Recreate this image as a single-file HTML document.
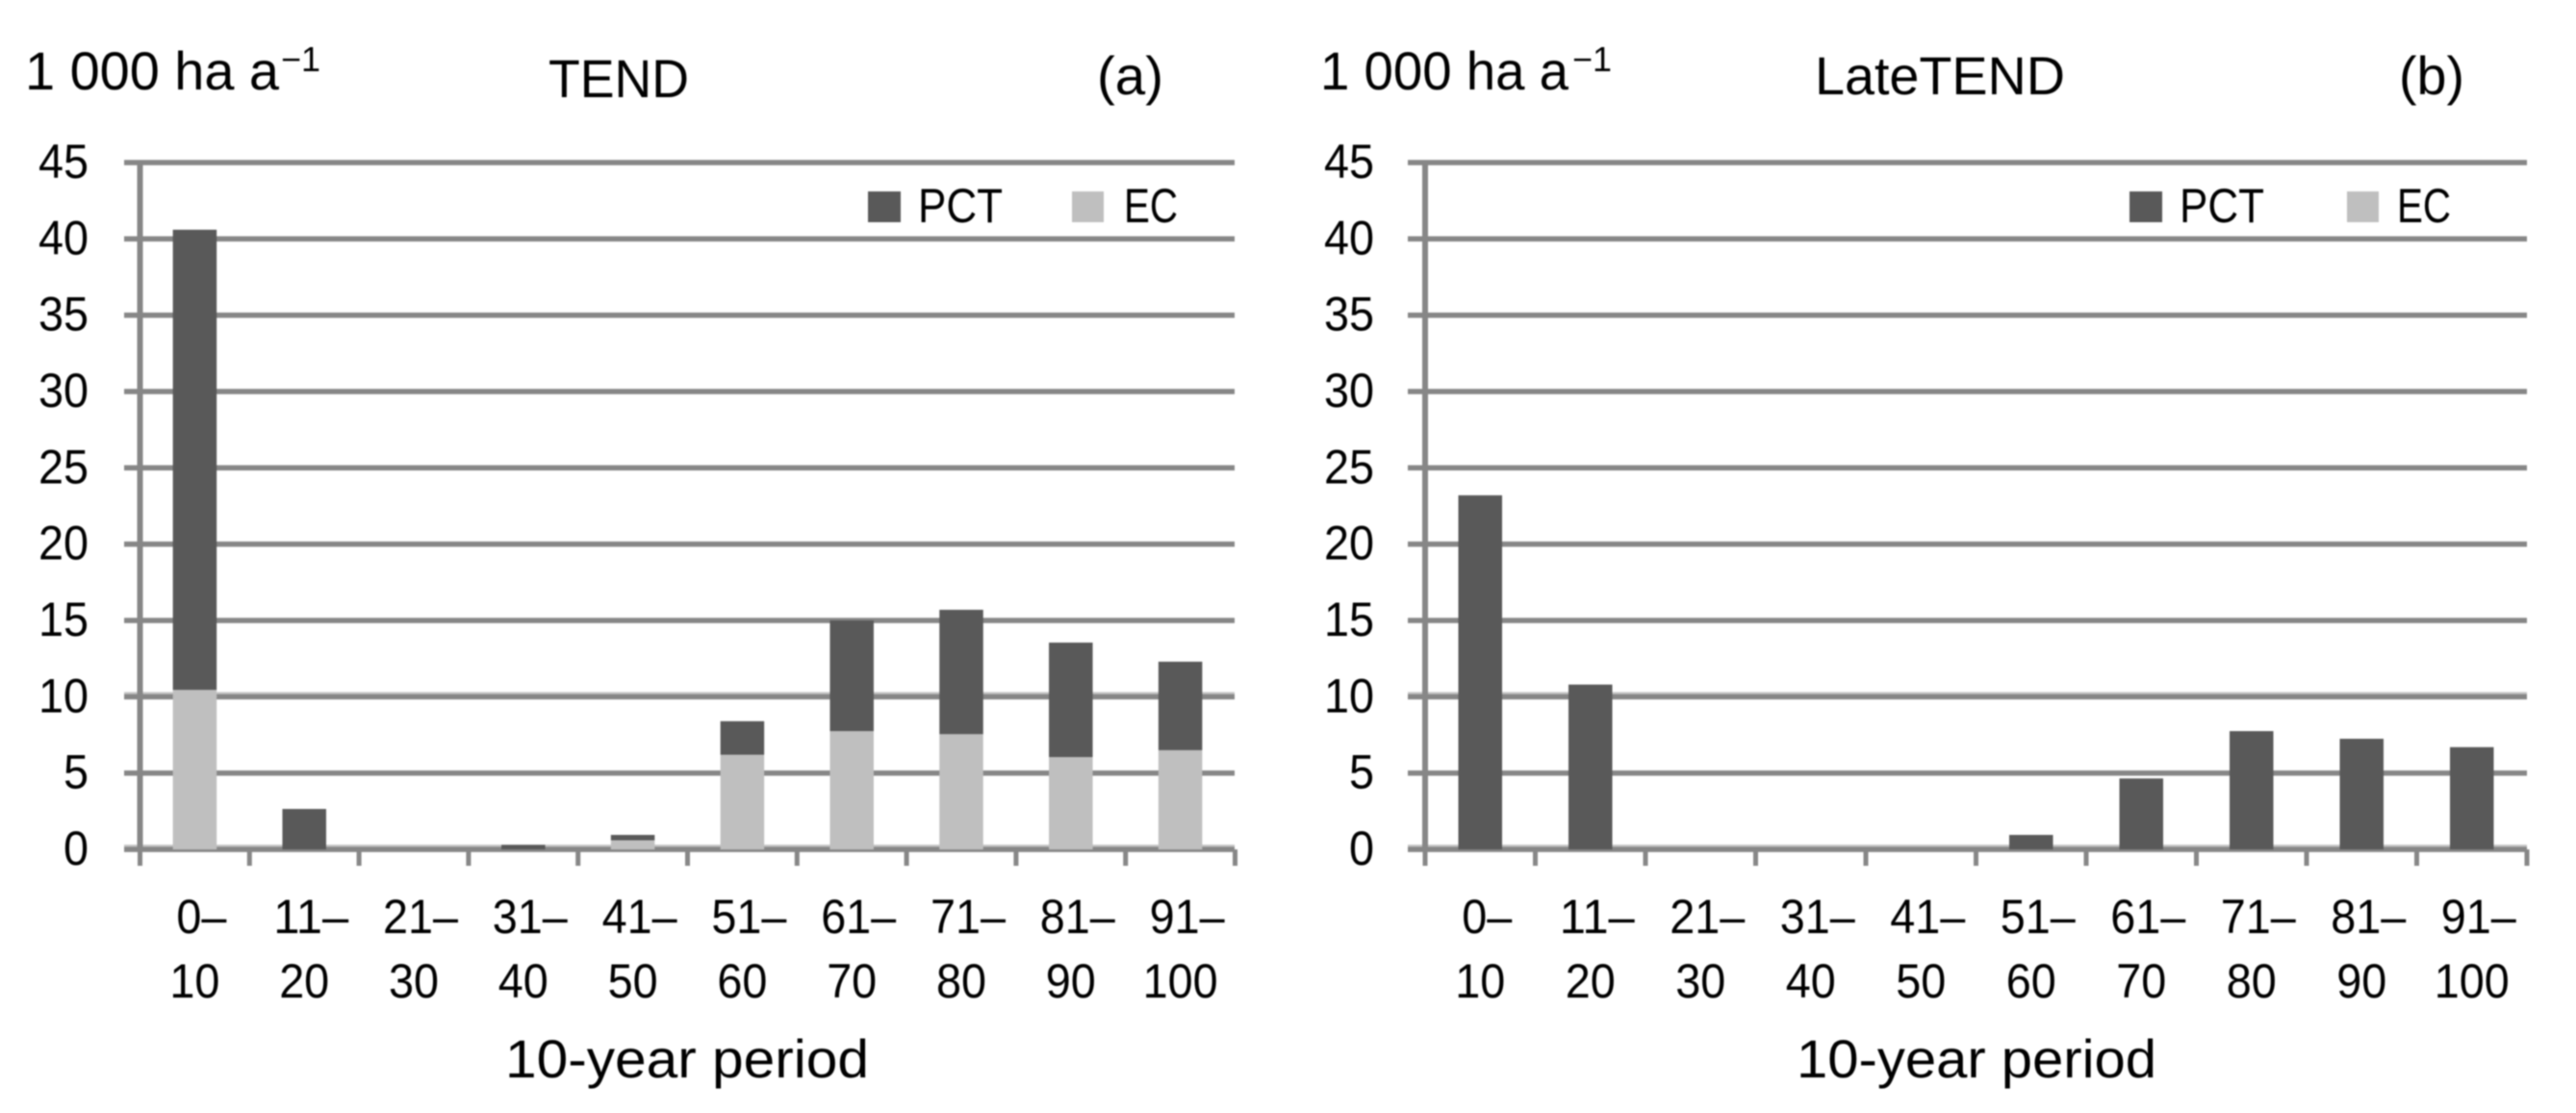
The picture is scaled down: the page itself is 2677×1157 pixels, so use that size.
<!DOCTYPE html>
<html lang="en">
<head>
<meta charset="utf-8">
<title>TEND and LateTEND treatment areas</title>
<style>
html,body{margin:0;padding:0;background:#fff;}
svg{display:block;filter:blur(0.7px);}
text{font-family:"Liberation Sans",sans-serif;fill:#000;}
</style>
</head>
<body>
<svg id="figure" width="2677" height="1157" viewBox="0 0 2677 1157" xmlns="http://www.w3.org/2000/svg">
  <rect x="0" y="0" width="2677" height="1157" fill="#fff"/>
  <g id="panel-a">
    <text x="26" y="93" font-size="56" textLength="264" lengthAdjust="spacingAndGlyphs">1 000 ha a</text>
    <text x="292" y="74" font-size="36" textLength="41" lengthAdjust="spacingAndGlyphs">−1</text>
    <text x="570" y="101" font-size="56" textLength="146" lengthAdjust="spacingAndGlyphs">TEND</text>
    <text x="1140" y="98" font-size="56" textLength="69" lengthAdjust="spacingAndGlyphs">(a)</text>
    <text x="525" y="1120" font-size="56" textLength="378" lengthAdjust="spacingAndGlyphs">10-year period</text>
  </g>
  <g id="panel-b">
    <text x="1372" y="93" font-size="56" textLength="258" lengthAdjust="spacingAndGlyphs">1 000 ha a</text>
    <text x="1634" y="74" font-size="36" textLength="41" lengthAdjust="spacingAndGlyphs">−1</text>
    <text x="1886" y="98" font-size="56" textLength="260" lengthAdjust="spacingAndGlyphs">LateTEND</text>
    <text x="2493" y="98" font-size="56" textLength="68" lengthAdjust="spacingAndGlyphs">(b)</text>
    <text x="1867" y="1120" font-size="56" textLength="374" lengthAdjust="spacingAndGlyphs">10-year period</text>
  </g>
</svg>
<script>
const categoriesTop = ["0–", "11–", "21–", "31–", "41–", "51–", "61–", "71–", "81–", "91–"];
const categoriesBottom = ["10", "20", "30", "40", "50", "60", "70", "80", "90", "100"];
const yTicks = [0, 5, 10, 15, 20, 25, 30, 35, 40, 45];
const tendEC = [10.45, 0, 0, 0, 0.6, 6.2, 7.75, 7.55, 6.05, 6.5];
const tendPCT = [30.15, 2.65, 0, 0.3, 0.35, 2.2, 7.25, 8.15, 7.5, 5.8];
const lateEC = [0, 0, 0, 0, 0, 0, 0, 0, 0, 0];
const latePCT = [23.2, 10.8, 0, 0, 0, 0.95, 4.65, 7.75, 7.25, 6.7];

const NS = "http://www.w3.org/2000/svg";
const PLOT_TOP = 169, PLOT_BOTTOM = 883, Y_MAX = 45;
const GRID = "#878787", HALO = "#c6c6c6", DARK = "#595959", LIGHT = "#bfbfbf";
const yScale = v => PLOT_BOTTOM - (v / Y_MAX) * (PLOT_BOTTOM - PLOT_TOP);

function make(parent, tag, props, content) {
  const el = document.createElementNS(NS, tag);
  for (const k in props) el.setAttribute(k, props[k]);
  if (content !== undefined) el.textContent = content;
  parent.appendChild(el);
  return el;
}

function fitted(str) {
  return {textLength: str.length * 26, lengthAdjust: "spacingAndGlyphs"};
}

function drawPanel(root, prefix, geom, ecValues, pctValues) {
  const band = (geom.right - geom.left) / categoriesTop.length;
  const xCenter = i => geom.left + band * (i + 0.5);
  const barW = 45.5;

  yTicks.forEach(t => {
    if (t === 0 || t === 10) {
      const halo = make(root, "rect", {x: geom.gridStart, y: yScale(t) - 5, width: geom.gridEnd - geom.gridStart, height: 3, fill: HALO});
      
      
    }
    const line = make(root, "rect", {x: geom.gridStart, y: yScale(t) - 2.75, width: geom.gridEnd - geom.gridStart, height: 5.5, fill: GRID});
    
    
    const str = String(t);
    const label = make(root, "text", Object.assign({x: geom.labelEnd, y: yScale(t) + 16, "font-size": 50, "text-anchor": "end"}, fitted(str)), str);
    
    
  });

  const axis = make(root, "rect", {x: geom.left - 3, y: PLOT_TOP, width: 6, height: PLOT_BOTTOM - PLOT_TOP, fill: GRID});
  
  

  for (let i = 0; i <= categoriesTop.length; i++) {
    const tick = make(root, "rect", {x: geom.left + band * i - 2.5, y: PLOT_BOTTOM, width: 5, height: 17, fill: GRID});
    
    
  }

  categoriesTop.forEach((c, i) => {
    const ec = ecValues[i], pct = pctValues[i];
    if (ec > 0) {
      const seg = make(root, "rect", {x: xCenter(i) - barW / 2, y: yScale(ec), width: barW, height: PLOT_BOTTOM - yScale(ec), fill: LIGHT});
      
      
    }
    if (pct > 0) {
      const seg = make(root, "rect", {x: xCenter(i) - barW / 2, y: yScale(ec + pct), width: barW, height: yScale(ec) - yScale(ec + pct), fill: DARK});
      
      
    }
    const top = make(root, "text", Object.assign({x: xCenter(i) + 7, y: 970, "font-size": 50, "text-anchor": "middle"}, fitted(c)), c);
    
    
    const bottom = make(root, "text", Object.assign({x: xCenter(i), y: 1037, "font-size": 50, "text-anchor": "middle"}, fitted(categoriesBottom[i])), categoriesBottom[i]);
    
    
  });

  const swatchPct = make(root, "rect", {x: geom.pctSwatch, y: 199, width: 34, height: 32, fill: DARK});
  
  
  const textPct = make(root, "text", {x: geom.pctText, y: 231, "font-size": 50, textLength: 88, lengthAdjust: "spacingAndGlyphs"}, "PCT");
  
  
  const swatchEc = make(root, "rect", {x: geom.ecSwatch, y: 199, width: 33, height: 32, fill: LIGHT});
  
  
  const textEc = make(root, "text", {x: geom.ecText, y: 231, "font-size": 50, textLength: 56, lengthAdjust: "spacingAndGlyphs"}, "EC");
  
  
}

drawPanel(document.getElementById("panel-a"), "panel-a",
  {left: 145.5, right: 1283.5, gridStart: 129, gridEnd: 1283, labelEnd: 92, pctSwatch: 902, pctText: 954, ecSwatch: 1114, ecText: 1168},
  tendEC, tendPCT);
drawPanel(document.getElementById("panel-b"), "panel-b",
  {left: 1481, right: 2626, gridStart: 1463, gridEnd: 2626, labelEnd: 1428, pctSwatch: 2213, pctText: 2265, ecSwatch: 2439, ecText: 2491},
  lateEC, latePCT);
</script>
</body>
</html>
